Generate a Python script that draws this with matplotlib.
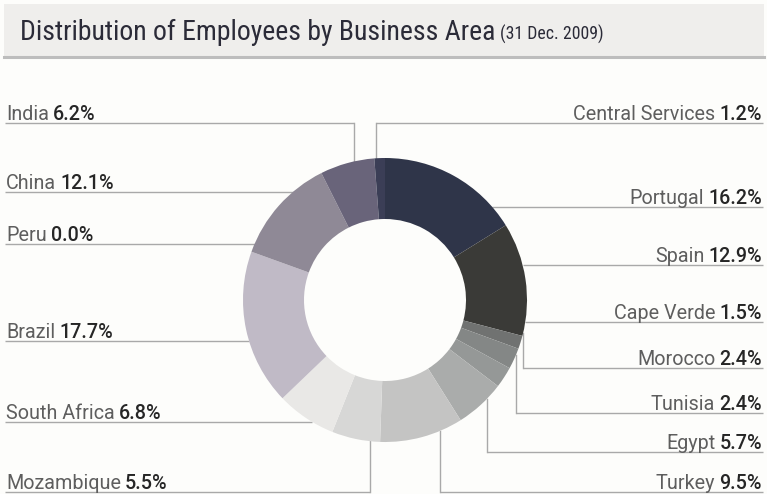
import numpy as np
import matplotlib.pyplot as plt

# employees by business area, clockwise from 12 o'clock
areas = ['Portugal', 'Spain', 'Cape Verde', 'Morocco', 'Tunisia', 'Egypt', 'Turkey',
         'Mozambique', 'South Africa', 'Brazil', 'Peru', 'China', 'India', 'Central Services']
shares = [16.2, 12.9, 1.5, 2.4, 2.4, 5.7, 9.5, 5.5, 6.8, 17.7, 0.0, 12.1, 6.2, 1.2]
colors = ['#2f3549', '#3a3a37', '#707271', '#848786', '#959897', '#aaacab', '#c4c4c3',
          '#d7d7d6', '#e9e8e6', '#c0bac6', '#a9a3ae', '#8f8996', '#69647a', '#3b3e56']

# label placement: y of underline (px from top), x of elbow (None = straight to ring)
left_labels = [('India', 123, 354), ('China', 192, None), ('Peru', 244, None),
               ('Brazil', 341, None), ('South Africa', 422, None), ('Mozambique', 492, 370)]
right_labels = [('Central Services', 123, 376), ('Portugal', 207, None), ('Spain', 265, None),
                ('Cape Verde', 322, None), ('Morocco', 368, 523), ('Tunisia', 413, 516),
                ('Egypt', 452, 487), ('Turkey', 492, 440)]

W, H = 767, 494
cx, cy, R, ring = 385, 300, 142, 61
line_c = '#a9a9a9'
COND = ['Roboto Condensed', 'DejaVu Sans']
LABEL = ['Roboto', 'DejaVu Sans']

plt.rcParams['font.family'] = LABEL
fig = plt.figure(figsize=(W / 100, H / 100), dpi=100, facecolor='#fdfdfb')
ax = fig.add_axes([0, 0, 1, 1])
ax.set_facecolor('#fdfdfb')

# donut
ax.pie(shares, colors=colors, startangle=90, counterclock=False,
       center=(cx, H - cy), radius=R,
       wedgeprops=dict(width=ring, linewidth=0), frame=False)
ax.set_xlim(0, W)
ax.set_ylim(0, H)
ax.set_aspect('equal')
ax.axis('off')

# title bar
ax.add_patch(plt.Rectangle((4, H - 56), 760, 52, facecolor='#efeeec', edgecolor='none', zorder=0))
ax.plot([4, 764], [H - 57, H - 57], color='#bdbdbd', lw=2.2, zorder=1)
t = ax.text(20, H - 40, 'Distribution of Employees by Business Area', fontsize=20,
            family=COND, color='#2b2b38', va='baseline', ha='left')
ax.annotate('(31 Dec. 2009)', xy=(1, H - 40), xycoords=(t, 'data'), xytext=(3, 0),
            textcoords='offset points', fontsize=12.8, family=COND, color='#2b2b38',
            va='baseline', ha='left')

share_of = dict(zip(areas, shares))
name_c, val_c, fs = '#5e5e5e', '#262626', 14.2


def ring_x(y, side):
    d = np.sqrt(max(R ** 2 - (y - cy) ** 2, 0))
    return cx - d if side == 'left' else cx + d


def ring_y(x, y):
    d = np.sqrt(max(R ** 2 - (x - cx) ** 2, 0))
    return cy - d if y < cy else cy + d


for name, y, elbow in left_labels:
    x_end = elbow if elbow is not None else ring_x(y, 'left')
    ax.plot([5, x_end], [H - y, H - y], color=line_c, lw=1, zorder=0.5, solid_capstyle='butt')
    if elbow is not None:
        ax.plot([elbow, elbow], [H - y, H - ring_y(elbow, y)], color=line_c, lw=1, zorder=0.5)
    nt = ax.text(6, H - y + 3, name, fontsize=fs, color=name_c, va='baseline', ha='left')
    ax.annotate(f'{share_of[name]:.1f}%', xy=(1, H - y + 3), xycoords=(nt, 'data'),
                xytext=(3, 0), textcoords='offset points', fontsize=fs, color=val_c,
                weight='medium', va='baseline', ha='left')

for name, y, elbow in right_labels:
    x_start = elbow if elbow is not None else ring_x(y, 'right')
    ax.plot([x_start, 763], [H - y, H - y], color=line_c, lw=1, zorder=0.5, solid_capstyle='butt')
    if elbow is not None:
        ax.plot([elbow, elbow], [H - y, H - ring_y(elbow, y)], color=line_c, lw=1, zorder=0.5)
    vt = ax.text(762, H - y + 3, f'{share_of[name]:.1f}%', fontsize=fs, color=val_c,
                 weight='medium', va='baseline', ha='right')
    ax.annotate(name, xy=(0, H - y + 3), xycoords=(vt, 'data'), xytext=(-3, 0),
                textcoords='offset points', fontsize=fs, color=name_c, va='baseline', ha='right')

fig.savefig('out.png', dpi=100, facecolor=fig.get_facecolor())
